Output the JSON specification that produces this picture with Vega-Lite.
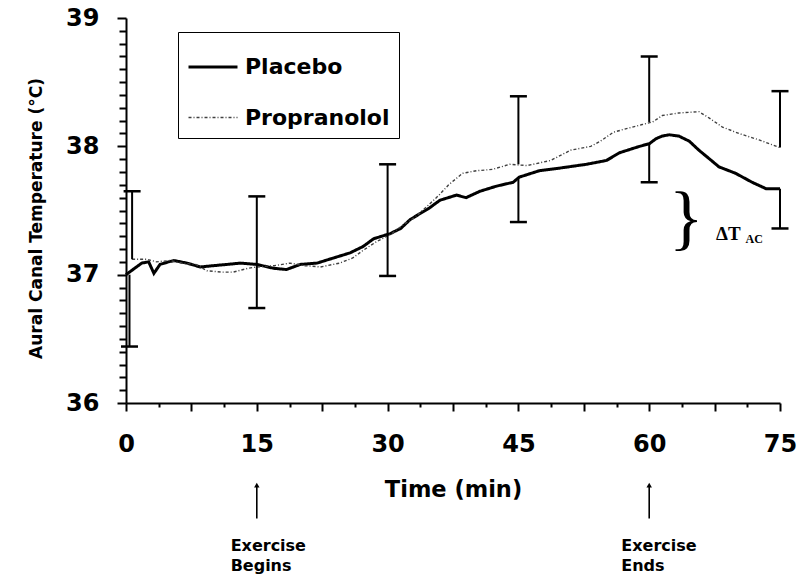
{
  "$schema": "https://vega.github.io/schema/vega-lite/v6.json",
  "width": 654,
  "height": 385,
  "autosize": {"type": "none"},
  "padding": {"left": 126, "top": 18, "right": 21, "bottom": 173},
  "background": "white",
  "config": {"view": {"stroke": null}, "font": "DejaVu Sans"},
  "datasets": {
    "series": [
      {"t": 0, "temp": 37.00, "series": "Placebo"},
      {"t": 0.8, "temp": 37.04, "series": "Placebo"},
      {"t": 1.8, "temp": 37.09, "series": "Placebo"},
      {"t": 2.6, "temp": 37.10, "series": "Placebo"},
      {"t": 3.2, "temp": 37.01, "series": "Placebo"},
      {"t": 3.9, "temp": 37.08, "series": "Placebo"},
      {"t": 4.9, "temp": 37.10, "series": "Placebo"},
      {"t": 5.5, "temp": 37.11, "series": "Placebo"},
      {"t": 7.0, "temp": 37.09, "series": "Placebo"},
      {"t": 8.5, "temp": 37.06, "series": "Placebo"},
      {"t": 10.0, "temp": 37.07, "series": "Placebo"},
      {"t": 11.6, "temp": 37.08, "series": "Placebo"},
      {"t": 13.1, "temp": 37.09, "series": "Placebo"},
      {"t": 15.0, "temp": 37.08, "series": "Placebo"},
      {"t": 16.9, "temp": 37.05, "series": "Placebo"},
      {"t": 18.4, "temp": 37.04, "series": "Placebo"},
      {"t": 20.0, "temp": 37.08, "series": "Placebo"},
      {"t": 21.9, "temp": 37.09, "series": "Placebo"},
      {"t": 23.8, "temp": 37.13, "series": "Placebo"},
      {"t": 25.7, "temp": 37.17, "series": "Placebo"},
      {"t": 27.2, "temp": 37.22, "series": "Placebo"},
      {"t": 28.4, "temp": 37.28, "series": "Placebo"},
      {"t": 30.3, "temp": 37.32, "series": "Placebo"},
      {"t": 31.5, "temp": 37.36, "series": "Placebo"},
      {"t": 32.6, "temp": 37.43, "series": "Placebo"},
      {"t": 34.8, "temp": 37.52, "series": "Placebo"},
      {"t": 36.0, "temp": 37.58, "series": "Placebo"},
      {"t": 37.9, "temp": 37.62, "series": "Placebo"},
      {"t": 39.0, "temp": 37.60, "series": "Placebo"},
      {"t": 40.6, "temp": 37.65, "series": "Placebo"},
      {"t": 42.5, "temp": 37.69, "series": "Placebo"},
      {"t": 44.4, "temp": 37.72, "series": "Placebo"},
      {"t": 45.1, "temp": 37.76, "series": "Placebo"},
      {"t": 47.4, "temp": 37.81, "series": "Placebo"},
      {"t": 49.7, "temp": 37.83, "series": "Placebo"},
      {"t": 52.8, "temp": 37.86, "series": "Placebo"},
      {"t": 55.1, "temp": 37.89, "series": "Placebo"},
      {"t": 56.6, "temp": 37.95, "series": "Placebo"},
      {"t": 58.9, "temp": 38.00, "series": "Placebo"},
      {"t": 60.0, "temp": 38.02, "series": "Placebo"},
      {"t": 60.8, "temp": 38.06, "series": "Placebo"},
      {"t": 61.5, "temp": 38.08, "series": "Placebo"},
      {"t": 62.3, "temp": 38.09, "series": "Placebo"},
      {"t": 63.4, "temp": 38.08, "series": "Placebo"},
      {"t": 64.6, "temp": 38.04, "series": "Placebo"},
      {"t": 65.7, "temp": 37.97, "series": "Placebo"},
      {"t": 67.3, "temp": 37.88, "series": "Placebo"},
      {"t": 68.0, "temp": 37.84, "series": "Placebo"},
      {"t": 69.9, "temp": 37.79, "series": "Placebo"},
      {"t": 71.8, "temp": 37.72, "series": "Placebo"},
      {"t": 73.4, "temp": 37.67, "series": "Placebo"},
      {"t": 75.0, "temp": 37.67, "series": "Placebo"},
      {"t": 0.7, "temp": 37.12, "series": "Propranolol"},
      {"t": 2.4, "temp": 37.12, "series": "Propranolol"},
      {"t": 3.5, "temp": 37.10, "series": "Propranolol"},
      {"t": 5.0, "temp": 37.11, "series": "Propranolol"},
      {"t": 6.5, "temp": 37.09, "series": "Propranolol"},
      {"t": 8.0, "temp": 37.08, "series": "Propranolol"},
      {"t": 9.3, "temp": 37.03, "series": "Propranolol"},
      {"t": 11.0, "temp": 37.02, "series": "Propranolol"},
      {"t": 12.3, "temp": 37.02, "series": "Propranolol"},
      {"t": 14.0, "temp": 37.05, "series": "Propranolol"},
      {"t": 15.0, "temp": 37.06, "series": "Propranolol"},
      {"t": 17.0, "temp": 37.07, "series": "Propranolol"},
      {"t": 18.8, "temp": 37.09, "series": "Propranolol"},
      {"t": 20.5, "temp": 37.07, "series": "Propranolol"},
      {"t": 22.3, "temp": 37.06, "series": "Propranolol"},
      {"t": 24.5, "temp": 37.09, "series": "Propranolol"},
      {"t": 26.0, "temp": 37.13, "series": "Propranolol"},
      {"t": 27.2, "temp": 37.19, "series": "Propranolol"},
      {"t": 28.8, "temp": 37.26, "series": "Propranolol"},
      {"t": 30.5, "temp": 37.32, "series": "Propranolol"},
      {"t": 32.0, "temp": 37.40, "series": "Propranolol"},
      {"t": 33.0, "temp": 37.44, "series": "Propranolol"},
      {"t": 34.5, "temp": 37.53, "series": "Propranolol"},
      {"t": 35.9, "temp": 37.62, "series": "Propranolol"},
      {"t": 37.0, "temp": 37.70, "series": "Propranolol"},
      {"t": 38.6, "temp": 37.79, "series": "Propranolol"},
      {"t": 40.2, "temp": 37.81, "series": "Propranolol"},
      {"t": 42.0, "temp": 37.82, "series": "Propranolol"},
      {"t": 44.0, "temp": 37.86, "series": "Propranolol"},
      {"t": 46.0, "temp": 37.85, "series": "Propranolol"},
      {"t": 48.7, "temp": 37.89, "series": "Propranolol"},
      {"t": 51.0, "temp": 37.97, "series": "Propranolol"},
      {"t": 53.3, "temp": 38.00, "series": "Propranolol"},
      {"t": 54.4, "temp": 38.04, "series": "Propranolol"},
      {"t": 55.9, "temp": 38.11, "series": "Propranolol"},
      {"t": 57.5, "temp": 38.14, "series": "Propranolol"},
      {"t": 59.2, "temp": 38.17, "series": "Propranolol"},
      {"t": 60.4, "temp": 38.19, "series": "Propranolol"},
      {"t": 61.5, "temp": 38.24, "series": "Propranolol"},
      {"t": 63.4, "temp": 38.26, "series": "Propranolol"},
      {"t": 65.7, "temp": 38.27, "series": "Propranolol"},
      {"t": 66.9, "temp": 38.22, "series": "Propranolol"},
      {"t": 68.4, "temp": 38.15, "series": "Propranolol"},
      {"t": 70.3, "temp": 38.10, "series": "Propranolol"},
      {"t": 72.6, "temp": 38.05, "series": "Propranolol"},
      {"t": 75.0, "temp": 37.99, "series": "Propranolol"}
    ],
    "bars": [
      {"t": 0.7, "from": 37.12, "to": 37.65},
      {"t": 0.4, "from": 37.00, "to": 36.44},
      {"t": 15, "from": 37.07, "to": 37.61},
      {"t": 15, "from": 37.08, "to": 36.74},
      {"t": 30, "from": 37.32, "to": 37.86},
      {"t": 30, "from": 37.32, "to": 36.99},
      {"t": 45, "from": 37.86, "to": 38.39},
      {"t": 45, "from": 37.76, "to": 37.41},
      {"t": 60, "from": 38.19, "to": 38.70},
      {"t": 60, "from": 38.02, "to": 37.72},
      {"t": 75, "from": 37.99, "to": 38.43},
      {"t": 75, "from": 37.67, "to": 37.36}
    ],
    "notes": [
      {"t": 12.0, "y": 34.886, "text": "Exercise"},
      {"t": 12.0, "y": 34.73, "text": "Begins"},
      {"t": 56.8, "y": 34.886, "text": "Exercise"},
      {"t": 56.8, "y": 34.73, "text": "Ends"}
    ],
    "arrows": [
      {"t": 15, "top": 35.36, "bottom": 35.10},
      {"t": 60, "top": 35.36, "bottom": 35.10}
    ]
  },
  "layer": [
    {
      "data": {"name": "series"},
      "mark": {"type": "line", "interpolate": "linear"},
      "encoding": {
        "x": {
          "field": "t", "type": "quantitative",
          "scale": {"domain": [0, 75], "nice": false, "zero": false},
          "axis": {
            "values": [0, 3.75, 7.5, 11.25, 15, 18.75, 22.5, 26.25, 30, 33.75, 37.5, 41.25, 45, 48.75, 52.5, 56.25, 60, 63.75, 67.5, 71.25, 75],
            "tickCount": 200,
            "format": ".0f",
            "labelExpr": "datum.value % 15 === 0 ? datum.label : ''",
            "labelFlush": false,
            "labelOverlap": false,
            "labelFont": "DejaVu Sans",
            "labelFontSize": 24,
            "labelFontWeight": "bold",
            "labelColor": "black",
            "labelPadding": 21,
            "tickColor": "black",
            "tickWidth": 2,
            "tickSize": {"condition": {"test": "datum.value % 7.5 === 0", "value": 8}, "value": 4},
            "domainColor": "black",
            "domainWidth": 2,
            "grid": false,
            "title": "Time (min)",
            "titleFont": "DejaVu Sans",
            "titleFontSize": 22.5,
            "titleFontWeight": "bold",
            "titleColor": "black",
            "titlePadding": 22
          }
        },
        "y": {
          "field": "temp", "type": "quantitative",
          "scale": {"domain": [36, 39], "nice": false, "zero": false},
          "axis": {
            "values": [36, 36.1, 36.2, 36.3, 36.4, 36.5, 36.6, 36.7, 36.8, 36.9, 37, 37.1, 37.2, 37.3, 37.4, 37.5, 37.6, 37.7, 37.8, 37.9, 38, 38.1, 38.2, 38.3, 38.4, 38.5, 38.6, 38.7, 38.8, 38.9, 39],
            "tickCount": 200,
            "format": ".0f",
            "labelExpr": "abs(datum.value - round(datum.value)) < 0.001 ? datum.label : ''",
            "labelOverlap": false,
            "labelFont": "DejaVu Sans",
            "labelFontSize": 24,
            "labelFontWeight": "bold",
            "labelColor": "black",
            "labelPadding": 18,
            "tickColor": "black",
            "tickWidth": 2,
            "tickSize": {"condition": {"test": "abs(datum.value - round(datum.value)) < 0.001", "value": 9}, "value": 7},
            "domainColor": "black",
            "domainWidth": 2,
            "grid": false,
            "title": "Aural Canal Temperature (°C)",
            "titleFont": "DejaVu Sans",
            "titleFontSize": 17,
            "titleFontWeight": "bold",
            "titleColor": "black",
            "titlePadding": 20,
            "titleY": 200
          }
        },
        "color": {
          "field": "series", "type": "nominal",
          "scale": {"domain": ["Placebo", "Propranolol"], "range": ["#000000", "#404040"]},
          "legend": {
            "orient": "none",
            "legendX": 52,
            "legendY": 14,
            "title": null,
            "strokeColor": "black",
            "fillColor": "white",
            "padding": 9,
            "labelFont": "DejaVu Sans",
            "labelFontSize": 22,
            "labelFontWeight": "bold",
            "labelColor": "black",
            "labelLimit": 300,
            "labelOffset": 6,
            "rowPadding": 14,
            "symbolType": "stroke",
            "symbolSize": 2400
          }
        },
        "strokeDash": {
          "field": "series", "type": "nominal",
          "scale": {"domain": ["Placebo", "Propranolol"], "range": [[1, 0], [3, 2, 1, 2]]}
        },
        "strokeWidth": {
          "field": "series", "type": "nominal",
          "scale": {"domain": ["Placebo", "Propranolol"], "range": [3, 1.4]}
        }
      }
    },
    {
      "data": {"name": "bars"},
      "mark": {"type": "rule", "color": "black", "strokeWidth": 2},
      "encoding": {
        "x": {"field": "t", "type": "quantitative"},
        "y": {"field": "from", "type": "quantitative"},
        "y2": {"field": "to"}
      }
    },
    {
      "data": {"name": "bars"},
      "mark": {"type": "tick", "orient": "horizontal", "color": "black", "thickness": 2.5, "size": 17, "opacity": 1},
      "encoding": {
        "x": {"field": "t", "type": "quantitative"},
        "y": {"field": "to", "type": "quantitative"}
      }
    },
    {
      "data": {"name": "arrows"},
      "mark": {"type": "rule", "color": "black", "strokeWidth": 1.6},
      "encoding": {
        "x": {"field": "t", "type": "quantitative"},
        "y": {"field": "top", "type": "quantitative"},
        "y2": {"field": "bottom"}
      }
    },
    {
      "data": {"name": "arrows"},
      "mark": {"type": "point", "shape": "triangle-up", "filled": true, "color": "black", "size": 30, "opacity": 1},
      "encoding": {
        "x": {"field": "t", "type": "quantitative"},
        "y": {"field": "top", "type": "quantitative"}
      }
    },
    {
      "data": {"name": "notes"},
      "mark": {"type": "text", "align": "left", "baseline": "middle", "font": "DejaVu Sans", "fontSize": 16, "fontWeight": "bold", "color": "black"},
      "encoding": {
        "x": {"field": "t", "type": "quantitative"},
        "y": {"field": "y", "type": "quantitative"},
        "text": {"field": "text"}
      }
    },
    {
      "data": {"values": [{"t": 64.25, "y": 37.434, "text": "}"}]},
      "mark": {"type": "text", "align": "center", "baseline": "middle", "font": "Liberation Serif", "fontSize": 72, "color": "black"},
      "encoding": {
        "x": {"field": "t", "type": "quantitative"},
        "y": {"field": "y", "type": "quantitative"},
        "text": {"field": "text"}
      }
    },
    {
      "data": {"values": [{"t": 69.07, "y": 37.317, "text": "ΔT"}]},
      "mark": {"type": "text", "align": "center", "baseline": "middle", "font": "Liberation Serif", "fontSize": 19, "fontWeight": "bold", "color": "black"},
      "encoding": {
        "x": {"field": "t", "type": "quantitative"},
        "y": {"field": "y", "type": "quantitative"},
        "text": {"field": "text"}
      }
    },
    {
      "data": {"values": [{"t": 72.05, "y": 37.278, "text": "AC"}]},
      "mark": {"type": "text", "align": "center", "baseline": "middle", "font": "Liberation Serif", "fontSize": 12, "fontWeight": "bold", "color": "black"},
      "encoding": {
        "x": {"field": "t", "type": "quantitative"},
        "y": {"field": "y", "type": "quantitative"},
        "text": {"field": "text"}
      }
    }
  ]
}
